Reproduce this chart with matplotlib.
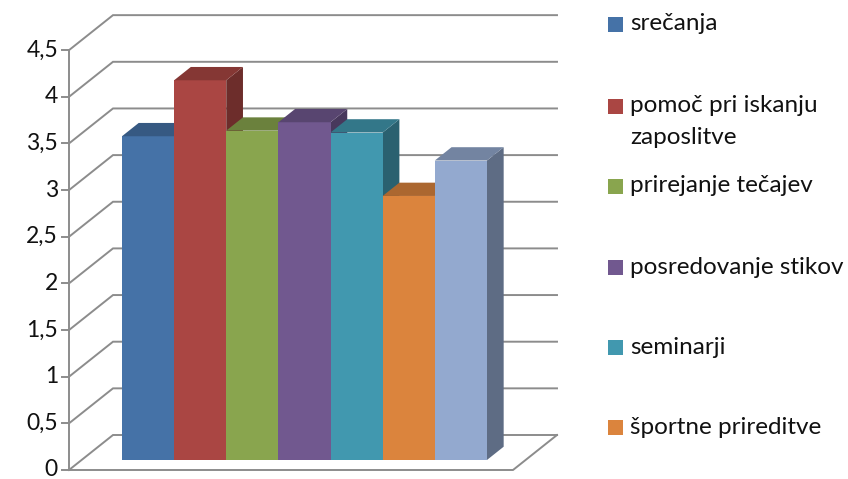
import matplotlib.pyplot as plt
from matplotlib.patches import Polygon, Rectangle
from matplotlib.colors import to_rgb

categories = ["srečanja", "pomoč pri iskanju\nzaposlitve", "prirejanje tečajev",
              "posredovanje stikov", "seminarji", "športne prireditve", ""]
values = [3.47, 4.07, 3.53, 3.62, 3.51, 2.83, 3.21]
colors = ["#4572A7", "#AA4643", "#89A54E", "#71588F", "#4198AF", "#DB843D", "#93A9CF"]
yticks = [0, 0.5, 1, 1.5, 2, 2.5, 3, 3.5, 4, 4.5]
ytick_labels = ["0", "0,5", "1", "1,5", "2", "2,5", "3", "3,5", "4", "4,5"]

plt.rcParams['font.family'] = ['Lato', 'DejaVu Sans']

W, H = 848, 479
# pixel geometry of the oblique projection
PX_CAT, PX_VAL = 52.14, 93.3
X0_PX, Y0_PX = 109.4, 470
DX, DV = 44 / PX_CAT, 35 / PX_VAL      # full depth offset (front wall -> back wall)
X_LEFT, X_RIGHT = (69 - X0_PX) / PX_CAT, (513 - X0_PX) / PX_CAT
D_FRONT, D_BACK = 10 / 35, 10 / 35 + 0.38  # bar front / back planes

fig = plt.figure(figsize=(W / 100, H / 100), dpi=100)
ax = fig.add_axes([0, 0, 1, 1])
ax.set_xlim(-X0_PX / PX_CAT, (W - X0_PX) / PX_CAT)
ax.set_ylim((Y0_PX - H) / PX_VAL, Y0_PX / PX_VAL)
ax.axis('off')


def proj(x, v, d):
    return (x + DX * d, v + DV * d)


grid_c = "#8c8c8c"
lw = 1.4
# walls / gridlines
for t, lab in zip(yticks, ytick_labels):
    a = proj(X_LEFT, t, 0)
    b = proj(X_LEFT, t, 1)
    c = proj(X_RIGHT, t, 1)
    ax.plot([a[0], b[0], c[0]], [a[1], b[1], c[1]], color=grid_c, lw=lw, zorder=1,
            solid_joinstyle='miter')
    # tick mark
    ax.plot([X_LEFT - 7 / PX_CAT, X_LEFT], [t, t], color=grid_c, lw=lw, zorder=1)
    ax.text(X_LEFT - 11 / PX_CAT, t, lab, ha='right', va='center',
            fontsize=16.5, color='#111111')

# front axis and floor edges
ax.plot([X_LEFT, X_LEFT], [0, yticks[-1]], color=grid_c, lw=lw, zorder=1)
f1 = proj(X_RIGHT, 0, 1)
ax.plot([X_LEFT, X_RIGHT, f1[0]], [0, 0, f1[1]], color=grid_c, lw=lw, zorder=1)


def shade(col, k):
    r, g, b = to_rgb(col)
    return (r * k, g * k, b * k)


# bars, left to right so later fronts hide earlier side faces
for i, (v, col) in enumerate(zip(values, colors)):
    x0, b0 = proj(i, 0, D_FRONT)
    ax.bar(x0, v, width=1, bottom=b0, align='edge', color=col, lw=0, zorder=3 + i)
    top = [proj(i, v, D_FRONT), proj(i + 1, v, D_FRONT),
           proj(i + 1, v, D_BACK), proj(i, v, D_BACK)]
    side = [proj(i + 1, 0, D_FRONT), proj(i + 1, 0, D_BACK),
            proj(i + 1, v, D_BACK), proj(i + 1, v, D_FRONT)]
    ax.add_patch(Polygon(top, closed=True, color=shade(col, 0.78), lw=0, zorder=3 + i))
    ax.add_patch(Polygon(side, closed=True, color=shade(col, 0.64), lw=0, zorder=2.5 + i))

# legend (Excel style, only the first six entries fit)
leg_y = [24, 106, 186, 267, 347, 427]
for y, lab, col in zip(leg_y, categories[:6], colors[:6]):
    fig.patches.append(Rectangle((608 / W, 1 - (y + 7.5) / H), 15 / W, 15 / H,
                                 transform=fig.transFigure, color=col, lw=0))
    for k, line in enumerate(lab.split('\n')):
        fig.text(630 / W, 1 - (y + 32 * k) / H, line, ha='left', va='center',
                 fontsize=17.5, color='#111111')

fig.savefig("out.png", dpi=100)
